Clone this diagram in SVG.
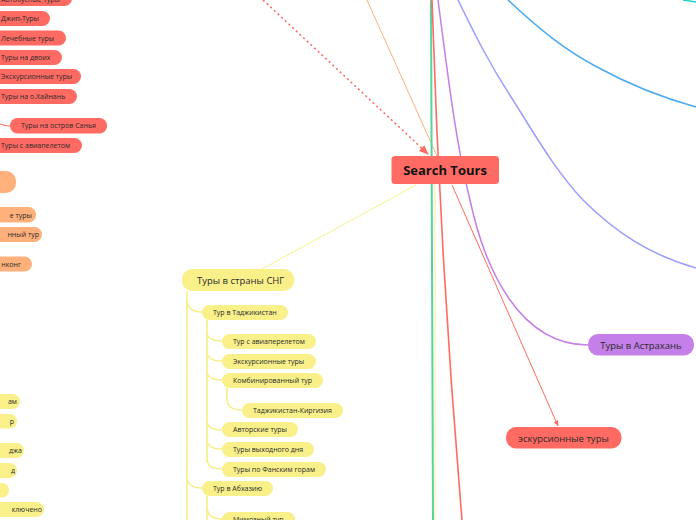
<svg xmlns="http://www.w3.org/2000/svg" width="696" height="520" viewBox="0 0 696 520">
<defs>
<style>
text{font-family:"Open Sans","Noto Sans","DejaVu Sans",sans-serif;fill:#2a2a2a;}
.s{font-size:7px;}
.m{font-size:9.5px;}
.r{fill:#ff6b63;}
.o{fill:#ffb07b;}
.y{fill:#f9f08a;}
.p{fill:#c57fe8;}
.yl{fill:none;stroke:#f7ee86;stroke-width:1.6;}
</style>
<marker id="ah" viewBox="0 0 10 10" refX="9" refY="5" markerWidth="6" markerHeight="6" orient="auto">
<path d="M0,1 L10,5 L0,9 z" fill="#ff6b63"/>
</marker>
</defs>
<rect width="696" height="520" fill="#ffffff"/>

<g id="connectors">
<path d="M263,0 L428,154" fill="none" stroke="#ff6b63" stroke-width="1.6" stroke-dasharray="2,3" marker-end="url(#ah)"/>
<path d="M367,0 L437,156" fill="none" stroke="#ffb07b" stroke-width="1"/>
<path d="M431,0 L433,520" fill="none" stroke="#56d59a" stroke-width="2"/>
<path d="M435,184 L435,520" fill="none" stroke="#f9ee9a" stroke-width="1"/>
<path d="M432,0 Q440,260 462,520" fill="none" stroke="#ff6b63" stroke-width="1.6"/>
<path d="M438,0 C446,60 455,140 470,200 C485,270 520,345 588,345" fill="none" stroke="#c57fe8" stroke-width="1.5"/>
<path d="M458,0 C475,35 490,65 513,100 C535,135 555,170 583,200 C615,232 650,255 696,268" fill="none" stroke="#9c9cff" stroke-width="1.5"/>
<path d="M508,0 C540,30 565,50 597,67 C630,85 660,97 696,107" fill="none" stroke="#4aaaf2" stroke-width="1.5"/>
<path d="M683,0 L696,2" fill="none" stroke="#22cfcf" stroke-width="1.5"/>
<path d="M452,185 L558,426" fill="none" stroke="#ff6b63" stroke-width="1" marker-end="url(#ah)"/>
<path d="M416,185 L262,269" fill="none" stroke="#f9f38a" stroke-width="1"/>
<path d="M0,124 Q5,126 10,126" fill="none" stroke="#ff6b63" stroke-width="1"/>
<path class="yl" d="M187,291 L187,520"/>
<path class="yl" d="M187,300 Q188,312 202,312"/>
<path class="yl" d="M187,478 Q188,488 202,488"/>
<path class="yl" d="M207,320 L207,462"/>
<path class="yl" d="M207,333 Q208,341 222,341"/>
<path class="yl" d="M207,353 Q208,361 222,361"/>
<path class="yl" d="M207,372 Q208,380 222,380"/>
<path class="yl" d="M207,422 Q208,430 222,430"/>
<path class="yl" d="M207,441 Q208,449 222,449"/>
<path class="yl" d="M207,460 Q208,469 222,469"/>
<path class="yl" d="M227,388 L227,400 Q228,410 242,410"/>
<path class="yl" d="M207,496 L207,520"/>
<path class="yl" d="M207,508 Q208,519 222,519"/>
</g>

<g id="search-tours">
<rect x="391.5" y="156" width="107.5" height="28" rx="3.5" class="r"/>
<text x="445" y="175" font-size="13" font-weight="bold" text-anchor="middle" style="fill:#111">Search Tours</text>
</g>

<g id="n-avtobus"><rect x="-20" y="-9" width="92" height="15" rx="7.5" class="r"/><text class="s" x="1" y="2">Автобусные туры</text></g>
<g id="n-jeep"><rect x="-20" y="11" width="70" height="15" rx="7.5" class="r"/><text class="s" x="1" y="21">Джип-Туры</text></g>
<g id="n-lech"><rect x="-20" y="30.5" width="86" height="15" rx="7.5" class="r"/><text class="s" x="1" y="40.5">Лечебные туры</text></g>
<g id="n-dvoih"><rect x="-20" y="50" width="82" height="15" rx="7.5" class="r"/><text class="s" x="1" y="60">Туры на двоих</text></g>
<g id="n-ekskurs-l"><rect x="-20" y="69" width="101" height="15" rx="7.5" class="r"/><text class="s" x="1" y="79">Экскурсионные туры</text></g>
<g id="n-hainan"><rect x="-20" y="89" width="97" height="15" rx="7.5" class="r"/><text class="s" x="1" y="99">Туры на о.Хайнань</text></g>
<g id="n-sanya"><rect x="10" y="118" width="97" height="15.5" rx="7.5" class="r"/><text class="s" x="21" y="128.3">Туры на остров Санья</text></g>
<g id="n-avia-l"><rect x="-20" y="138" width="102" height="15" rx="7.5" class="r"/><text class="s" x="1" y="148">Туры с авиапелетом</text></g>

<g id="n-orange-main"><rect x="-30" y="171" width="46" height="22" rx="10" class="o"/></g>
<g id="n-orange-1"><rect x="-30" y="207" width="66" height="15.5" rx="7.5" class="o"/><text class="s" x="32" y="217.5" text-anchor="end">е туры</text></g>
<g id="n-orange-2"><rect x="-30" y="227" width="72" height="15" rx="7.5" class="o"/><text class="s" x="39" y="237" text-anchor="end">нный тур</text></g>
<g id="n-orange-3"><rect x="-30" y="256.5" width="62" height="15" rx="7.5" class="o"/><text class="s" x="21" y="266.5" text-anchor="end">нконг</text></g>

<g id="n-yl-1"><rect x="-30" y="394" width="50" height="15" rx="7.5" class="y"/><text class="s" x="17" y="404" text-anchor="end">ам</text></g>
<g id="n-yl-2"><rect x="-30" y="414" width="47" height="14.5" rx="7" class="y"/><text class="s" x="14" y="423.8" text-anchor="end">р</text></g>
<g id="n-yl-3"><rect x="-30" y="443" width="54" height="15" rx="7.5" class="y"/><text class="s" x="22" y="453" text-anchor="end">джа</text></g>
<g id="n-yl-4"><rect x="-30" y="463" width="47" height="15" rx="7.5" class="y"/><text class="s" x="15" y="473" text-anchor="end">д</text></g>
<g id="n-yl-5"><rect x="-30" y="483" width="39" height="14.5" rx="7" class="y"/></g>
<g id="n-yl-6"><rect x="-30" y="502" width="74" height="15" rx="7.5" class="y"/><text class="s" x="42" y="512" text-anchor="end">ключено</text></g>

<g id="n-sng"><rect x="182" y="269" width="112" height="22" rx="10" class="y"/><text class="m" x="197" y="283.5">Туры в страны СНГ</text></g>
<g id="n-tadj"><rect x="202" y="305" width="86" height="15" rx="7.5" class="y"/><text class="s" x="213" y="315">Тур в Таджикистан</text></g>
<g id="n-t-avia"><rect x="222" y="334" width="94" height="15" rx="7.5" class="y"/><text class="s" x="233" y="344">Тур с авиаперелетом</text></g>
<g id="n-t-eks"><rect x="222" y="354" width="94" height="15" rx="7.5" class="y"/><text class="s" x="233" y="364">Экскурсионные туры</text></g>
<g id="n-t-komb"><rect x="222" y="373" width="101" height="15" rx="7.5" class="y"/><text class="s" x="233" y="383">Комбинированный тур</text></g>
<g id="n-t-kirg"><rect x="242" y="403" width="101" height="15" rx="7.5" class="y"/><text class="s" x="253" y="413">Таджикистан-Киргизия</text></g>
<g id="n-t-avt"><rect x="222" y="422" width="76" height="15" rx="7.5" class="y"/><text class="s" x="233" y="432">Авторские туры</text></g>
<g id="n-t-vyh"><rect x="222" y="442" width="92" height="15" rx="7.5" class="y"/><text class="s" x="233" y="452">Туры выходного дня</text></g>
<g id="n-t-fan"><rect x="222" y="462" width="104" height="15" rx="7.5" class="y"/><text class="s" x="233" y="472">Туры по Фанским горам</text></g>
<g id="n-abh"><rect x="202" y="481" width="71" height="15" rx="7.5" class="y"/><text class="s" x="213" y="491">Тур в Абхазию</text></g>
<g id="n-mimoz"><rect x="222" y="512" width="73" height="15" rx="7.5" class="y"/><text class="s" x="233" y="522">Мимозный тур</text></g>

<g id="n-astrahan"><rect x="588" y="334" width="106" height="21.5" rx="10" class="p"/><text class="m" x="641" y="348.5" text-anchor="middle">Туры в Астрахань</text></g>
<g id="n-ekskurs-r"><rect x="506" y="427" width="115.5" height="21.5" rx="10" class="r"/><text class="m" x="563.5" y="441.5" text-anchor="middle">эскурсионные туры</text></g>
</svg>
